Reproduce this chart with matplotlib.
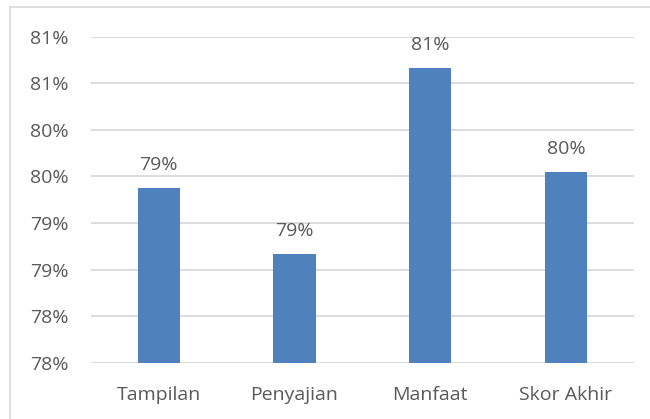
import math
import matplotlib
matplotlib.use("Agg")
import matplotlib.pyplot as plt
from matplotlib.lines import Line2D
from matplotlib.ticker import MultipleLocator, FuncFormatter

categories = ["Tampilan", "Penyajian", "Manfaat", "Skor Akhir"]
scores = [79.38, 78.67, 80.66, 79.55]

bar_color = "#4F81BD"
text_color = "#595959"
grid_color = "#D9D9D9"


def pct(v, pos=None):
    # round half up, as the spreadsheet does
    return f"{math.floor(v + 0.5)}%"


plt.rcParams["font.family"] = ["Open Sans", "DejaVu Sans"]

fig = plt.figure(figsize=(6.5, 4.19), dpi=100)
ax = fig.add_axes([0.14, 0.1344, 0.835, 0.778])

x = range(len(categories))
bars = ax.bar(x, scores, width=0.31, color=bar_color, zorder=3)

ax.set_ylim(77.5, 81.0)
ax.set_xlim(-0.5, len(categories) - 0.5)
ax.yaxis.set_major_locator(MultipleLocator(0.5))
ax.yaxis.set_major_formatter(FuncFormatter(pct))
ax.grid(axis="y", color=grid_color, linewidth=1.3, zorder=0)
ax.set_axisbelow(True)

for s in ax.spines.values():
    s.set_visible(False)

ax.set_xticks(list(x))
ax.set_xticklabels(categories)
ax.tick_params(axis="both", length=0, colors=text_color, labelsize=14)
ax.tick_params(axis="y", pad=16)
ax.tick_params(axis="x", pad=16.5)

for rect, v in zip(bars, scores):
    ax.annotate(pct(v), (rect.get_x() + rect.get_width() / 2, v),
                xytext=(0, 10), textcoords="offset points",
                ha="center", va="bottom", fontsize=14, color=text_color)

# chart frame (left and top edges)
fig.add_artist(Line2D([9.5 / 650, 9.5 / 650], [0, 1 - 7 / 419],
                      transform=fig.transFigure, color=grid_color, linewidth=1.2))
fig.add_artist(Line2D([9.5 / 650, 1], [1 - 7 / 419, 1 - 7 / 419],
                      transform=fig.transFigure, color=grid_color, linewidth=1.2))

fig.savefig("out.png", dpi=100, facecolor="white")
